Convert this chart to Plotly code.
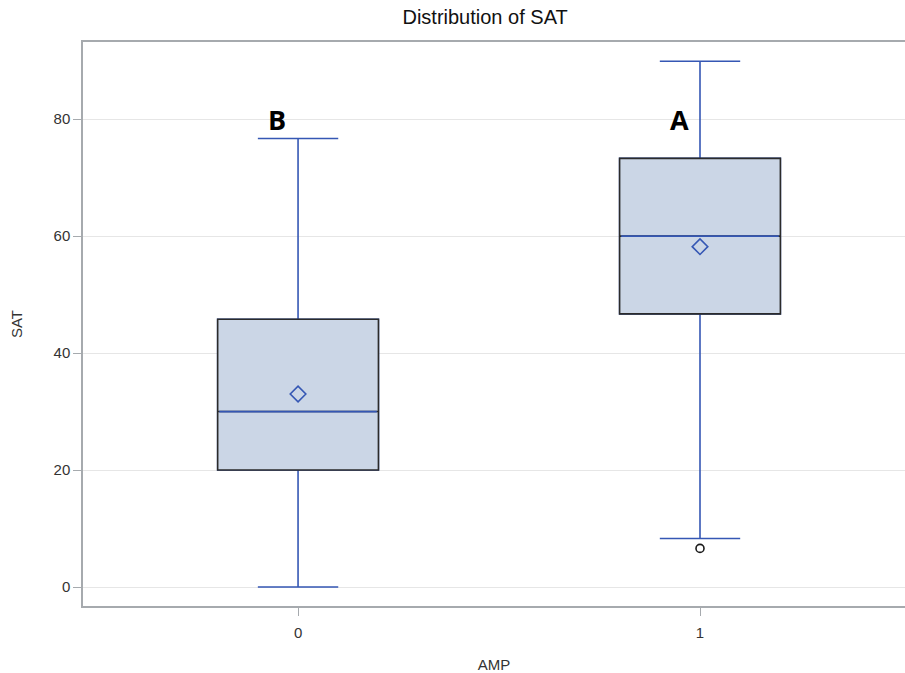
import plotly.graph_objects as go

# ---- data ----
categories = [0, 1]
q1_vals = [20.0, 46.7]
median_vals = [30.0, 60.0]
q3_vals = [45.8, 73.3]
lower_whisker = [0.0, 8.3]
upper_whisker = [76.7, 89.9]
mean_vals = [33.0, 58.2]
outlier_x = [1]
outlier_y = [6.6]
letters = ["B", "A"]
letter_y = [80, 80]
y_ticks = [0, 20, 40, 60, 80]

# ---- styles ----
BLUE = "#3557b4"
FILL = "#cbd6e6"
EDGE = "#2b2b2b"
AX = "#a6aaae"
BOX_W = 0.4
FONT = "Liberation Sans, Arial, sans-serif"

fig = go.Figure()

# whiskers (blue) with caps
fig.add_trace(go.Box(
    x=categories, q1=q1_vals, median=median_vals, q3=q3_vals,
    lowerfence=lower_whisker, upperfence=upper_whisker,
    width=BOX_W, whiskerwidth=0.5, boxpoints=False,
    line=dict(color=BLUE, width=1.6), fillcolor="rgba(0,0,0,0)",
    showlegend=False, hoverinfo="skip"))

# box body (dark outline, filled)
fig.add_trace(go.Box(
    x=categories, q1=q1_vals, median=median_vals, q3=q3_vals,
    lowerfence=q1_vals, upperfence=q3_vals,
    width=BOX_W, whiskerwidth=0, boxpoints=False,
    line=dict(color=EDGE, width=1.6), fillcolor=FILL,
    showlegend=False, hoverinfo="skip"))

# blue median lines
for c, m in zip(categories, median_vals):
    fig.add_trace(go.Scatter(
        x=[c - BOX_W / 2 + 0.004, c + BOX_W / 2 - 0.004], y=[m, m], mode="lines",
        line=dict(color=BLUE, width=1.8), showlegend=False, hoverinfo="skip"))

# means
fig.add_trace(go.Scatter(
    x=categories, y=mean_vals, mode="markers",
    marker=dict(symbol="diamond-open", size=12, color=BLUE, line=dict(width=1.6)),
    showlegend=False, hoverinfo="skip"))

# outliers
fig.add_trace(go.Scatter(
    x=outlier_x, y=outlier_y, mode="markers",
    marker=dict(symbol="circle-open", size=8, color="#1a1a1a", line=dict(width=1.6)),
    showlegend=False, hoverinfo="skip"))

# letters
for c, t, yy in zip(categories, letters, letter_y):
    fig.add_annotation(x=c, y=yy, text=f"<b>{t}</b>", showarrow=False,
                       xshift=-21, font=dict(family="Open Sans, Liberation Sans, sans-serif",
                                             size=27, color="black"))

fig.update_layout(
    width=905, height=673,
    margin=dict(l=83, r=0, t=42, b=67),
    paper_bgcolor="white", plot_bgcolor="white",
    boxmode="overlay",
    title=dict(text="Distribution of SAT", x=0.536, xanchor="center", y=0.974, yanchor="middle",
               font=dict(family=FONT, size=20, color="#111")),
    font=dict(family=FONT, color="#333"),
    xaxis=dict(
        range=[-0.535, 1.51], tickvals=categories, ticktext=[str(c) for c in categories],
        showgrid=False, zeroline=False, showline=True, linecolor=AX, linewidth=1.5,
        mirror=True, ticks="outside", ticklen=8, tickcolor=AX, tickwidth=1,
        ticklabelstandoff=4,
        tickfont=dict(size=15, color="#333"),
        title=dict(text="AMP", font=dict(size=15, color="#333"), standoff=20)),
    yaxis=dict(
        range=[-3.25, 93.2], tickvals=y_ticks,
        showgrid=True, gridcolor="#e6e6e6", gridwidth=1.2, zeroline=False,
        showline=True, linecolor=AX, linewidth=1.5,
        ticks="outside", ticklen=8, tickcolor=AX, tickwidth=1,
        tickfont=dict(size=15, color="#333"),
        title=dict(text="SAT", font=dict(size=15, color="#333"), standoff=27)),
)

fig.write_html("out.html")
